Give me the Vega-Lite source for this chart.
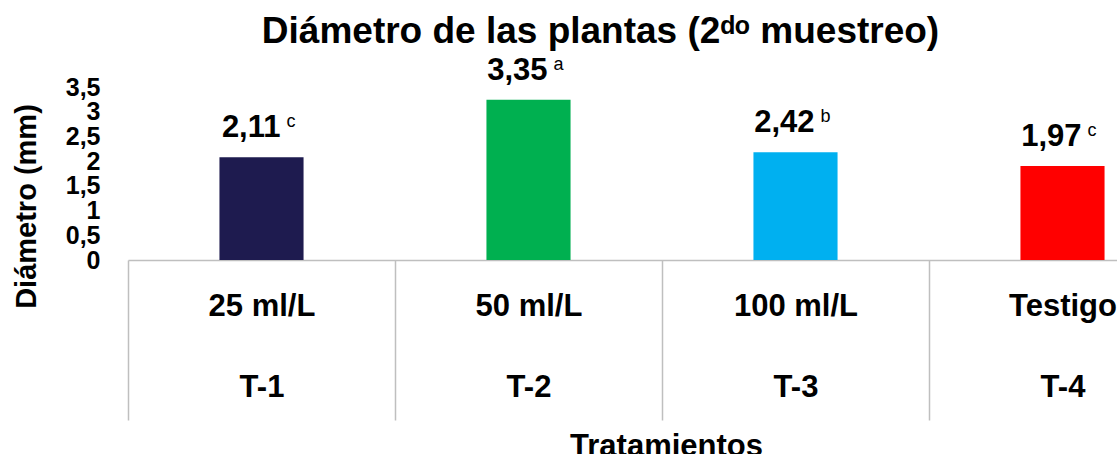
{
  "$schema": "https://vega.github.io/schema/vega-lite/v6.json",
  "width": 989,
  "height": 173,
  "autosize": {"type": "none"},
  "padding": {"left": 128, "top": 87, "right": 0, "bottom": 194},
  "background": "white",
  "title": {
    "text": "Diámetro de las plantas (2ᵈᵒ muestreo)",
    "font": "Liberation Sans",
    "fontSize": 37,
    "fontWeight": "bold",
    "color": "black",
    "anchor": "middle",
    "frame": "group",
    "baseline": "alphabetic",
    "offset": -25,
    "dx": -22
  },
  "data": {
    "values": [
      {"cat": "25 ml/L|T-1", "trat": "T-1", "bar": 2.08, "label": "2,11", "letra": "c"},
      {"cat": "50 ml/L|T-2", "trat": "T-2", "bar": 3.24, "label": "3,35", "letra": "a"},
      {"cat": "100 ml/L|T-3", "trat": "T-3", "bar": 2.18, "label": "2,42", "letra": "b"},
      {"cat": "Testigo|T-4", "trat": "T-4", "bar": 1.9, "label": "1,97", "letra": "c"}
    ]
  },
  "encoding": {
    "x": {
      "field": "cat",
      "type": "nominal",
      "sort": null,
      "scale": {"range": [0, 1068], "paddingInner": 0, "paddingOuter": 0},
      "axis": {
        "title": "Tratamientos",
        "titleFont": "Liberation Sans",
        "titleFontSize": 31,
        "titleFontWeight": "bold",
        "titleColor": "black",
        "titleBaseline": "alphabetic",
        "titleY": 195,
        "titleX": 538,
        "titleAlign": "center",
        "labelExpr": "split(datum.label, '|')",
        "labelFont": "Liberation Sans",
        "labelFontSize": 31,
        "labelFontWeight": "bold",
        "labelColor": "black",
        "labelLineHeight": 81,
        "labelBaseline": "middle",
        "labelPadding": -114,
        "labelAngle": 0,
        "labelOverlap": false,
        "labelBound": false,
        "labelFlush": false,
        "tickBand": "extent",
        "tickSize": 160,
        "tickColor": "#BFBFBF",
        "tickWidth": 1.5,
        "domainColor": "#BFBFBF",
        "domainWidth": 1.5,
        "grid": false
      }
    },
    "y": {
      "field": "bar",
      "type": "quantitative",
      "scale": {"domain": [0, 3.5], "nice": false},
      "axis": {
        "title": "Diámetro (mm)",
        "values": [0, 0.5, 1, 1.5, 2, 2.5, 3, 3.5],
        "format": "~g",
        "labelExpr": "replace(datum.label, '.', ',')",
        "grid": false,
        "ticks": false,
        "domain": false,
        "labelFont": "Liberation Sans",
        "labelFontSize": 25,
        "labelFontWeight": "bold",
        "labelColor": "black",
        "labelPadding": 28,
        "labelAlign": "right",
        "labelBaseline": "middle",
        "labelOverlap": false,
        "labelBound": false,
        "labelFlush": false,
        "titleFont": "Liberation Sans",
        "titleFontSize": 29,
        "titleFontWeight": "bold",
        "titleColor": "black",
        "titleAngle": -90,
        "titleX": -93,
        "titleY": 119,
        "titleAlign": "center",
        "titleBaseline": "alphabetic"
      }
    }
  },
  "layer": [
    {
      "mark": {"type": "bar", "width": {"band": 0.315}},
      "encoding": {
        "color": {
          "field": "trat",
          "type": "nominal",
          "scale": {"domain": ["T-1", "T-2", "T-3", "T-4"], "range": ["#1E1B4F", "#00B050", "#00B0F0", "#FF0000"]},
          "legend": null
        }
      }
    },
    {
      "mark": {"type": "text", "align": "right", "baseline": "middle", "dx": 19, "dy": -29, "font": "Liberation Sans", "fontSize": 31, "fontWeight": "bold", "color": "black"},
      "encoding": {
        "text": {"field": "label"}
      }
    },
    {
      "mark": {"type": "text", "align": "left", "baseline": "middle", "dx": 25, "dy": -35, "font": "Liberation Sans", "fontSize": 18, "color": "black"},
      "encoding": {
        "text": {"field": "letra"}
      }
    }
  ],
  "config": {"view": {"stroke": null}}
}
